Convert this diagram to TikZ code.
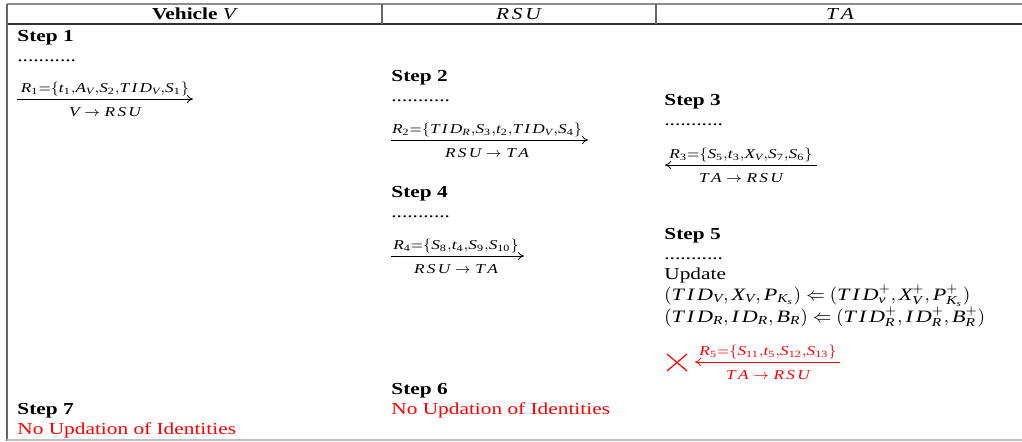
\documentclass[tikz,border=0pt]{standalone}
\usepackage{amsmath}
\usepackage{fontspec}
\setmainfont{Liberation Serif}[FakeStretch=1.27]
\usetikzlibrary{arrows.meta}
\newcommand{\mv}[1]{\textit{#1}}
\newcommand{\nd}[1]{\textup{#1}}
\begin{document}
\begin{tikzpicture}[x=0.5pt,y=-0.5pt,
  txt/.style={anchor=base west, inner sep=0pt, font=\fontsize{8.4}{10}\selectfont},
  mathtxt/.style={anchor=base west, inner sep=0pt, font=\fontsize{8.7}{10}\selectfont},
  steptxt/.style={anchor=base west, inner sep=0pt, font=\fontsize{8.4}{10}\selectfont\bfseries},
  redtxt/.style={txt, text=red},
  hdr/.style={anchor=base, inner sep=0pt, font=\fontsize{8.4}{10}\selectfont},
  lbl/.style={anchor=base, inner sep=0pt, font=\fontsize{6.8}{8}\selectfont},
  msg/.style={-{To[length=3pt,width=4pt]}, line width=0.4pt},
  rule/.style={line width=0.6pt, draw=black!60}]
\useasboundingbox (0,0) rectangle (1022,441);
% table frame
\draw[rule, draw=black!45] (7,4) -- (1022,4);
\draw[rule, draw=black!80] (7,24) -- (1022,24);
\draw[rule] (7,4) -- (7,441);
\draw[rule] (382,4) -- (382,24);
\draw[rule] (656,4) -- (656,24);
\draw[rule, draw=black!25] (7,440) -- (1022,440);
% header
\node[hdr] (h1) at (195,19) {\textbf{Vehicle} \mv{V}};
\node[hdr] (h2) at (519,19) {\mv{R\,S\,U}};
\node[hdr] (h3) at (840,19) {\mv{T\,A}};
% column 1
\node[steptxt] (s1) at (17,41) {Step 1};
\node[txt] (d1) at (17,61) {...........};
\coordinate (a1s) at (17,99);
\coordinate (a1e) at (193,99);
\draw[msg] (a1s) -- (a1e);
\node[lbl] (r1) at (105,92) {$\mv{R}_{\nd{1}}{=}\{\mv{t}_{\nd{1}}{,}\mv{A}_{\mv{V}}{,}\mv{S}_{\nd{2}}{,}\mv{T\,I\,D}_{\mv{V}}{,}\mv{S}_{\nd{1}}\}$};
\node[lbl] (p1) at (105,116) {$\mv{V}\rightarrow\mv{R\,S\,U}$};
% column 2
\node[steptxt] (s2) at (391,81) {Step 2};
\node[txt] (d2) at (391,101) {...........};
\coordinate (a2s) at (391,140);
\coordinate (a2e) at (588,140);
\draw[msg] (a2s) -- (a2e);
\node[lbl] (r2) at (487,133) {$\mv{R}_{\nd{2}}{=}\{\mv{T\,I\,D}_{\mv{R}}{,}\mv{S}_{\nd{3}}{,}\mv{t}_{\nd{2}}{,}\mv{T\,I\,D}_{\mv{V}}{,}\mv{S}_{\nd{4}}\}$};
\node[lbl] (p2) at (487,157) {$\mv{R\,S\,U}\rightarrow\mv{T\,A}$};
\node[steptxt] (s4) at (391,197) {Step 4};
\node[txt] (d4) at (391,217) {...........};
\coordinate (a4s) at (391,256);
\coordinate (a4e) at (524,256);
\draw[msg] (a4s) -- (a4e);
\node[lbl] (r4) at (456,249) {$\mv{R}_{\nd{4}}{=}\{\mv{S}_{\nd{8}}{,}\mv{t}_{\nd{4}}{,}\mv{S}_{\nd{9}}{,}\mv{S}_{\nd{10}}\}$};
\node[lbl] (p4) at (456,273) {$\mv{R\,S\,U}\rightarrow\mv{T\,A}$};
\node[steptxt] (s6) at (391,394) {Step 6};
\node[redtxt] (n6) at (391,414) {No Updation of Identities};
% column 3
\node[steptxt] (s3) at (664,105) {Step 3};
\node[txt] (d3) at (664,125) {...........};
\coordinate (a3s) at (817,165);
\coordinate (a3e) at (665,165);
\draw[msg] (a3s) -- (a3e);
\node[lbl] (r3) at (741,158) {$\mv{R}_{\nd{3}}{=}\{\mv{S}_{\nd{5}}{,}\mv{t}_{\nd{3}}{,}\mv{X}_{\mv{V}}{,}\mv{S}_{\nd{7}}{,}\mv{S}_{\nd{6}}\}$};
\node[lbl] (p3) at (741,182) {$\mv{T\,A}\rightarrow\mv{R\,S\,U}$};
\node[steptxt] (s5) at (664,239) {Step 5};
\node[txt] (d5) at (664,259) {...........};
\node[txt] (u5) at (664,279) {Update};
\node[mathtxt] (l1) at (664,300) {$(\mv{T\,I\,D}_{\mv{V}},\mv{X}_{\mv{V}},\mv{P}_{\mv{K}_{\mv{s}}})\Leftarrow(\mv{T\,I\,D}_{\mv{v}}^{+},\mv{X}_{\mv{V}}^{+},\mv{P}_{\mv{K}_{\mv{s}}}^{+})$};
\node[mathtxt] (l2) at (664,322) {$(\mv{T\,I\,D}_{\mv{R}},\mv{I\,D}_{\mv{R}},\mv{B}_{\mv{R}})\Leftarrow(\mv{T\,I\,D}_{\mv{R}}^{+},\mv{I\,D}_{\mv{R}}^{+},\mv{B}_{\mv{R}}^{+})$};
\coordinate (x1) at (667,354);
\coordinate (x2) at (687,371);
\coordinate (x3) at (667,371);
\coordinate (x4) at (687,354);
\draw[red, line width=0.6pt] (x1) -- (x2) (x3) -- (x4);
\coordinate (a5s) at (840,362);
\coordinate (a5e) at (695,362);
\draw[msg, red] (a5s) -- (a5e);
\node[lbl, text=red] (r5) at (768,355) {$\mv{R}_{\nd{5}}{=}\{\mv{S}_{\nd{11}}{,}\mv{t}_{\nd{5}}{,}\mv{S}_{\nd{12}}{,}\mv{S}_{\nd{13}}\}$};
\node[lbl, text=red] (p5) at (768,379) {$\mv{T\,A}\rightarrow\mv{R\,S\,U}$};
% column 1 bottom
\node[steptxt] (s7) at (17,414) {Step 7};
\node[redtxt] (n7) at (17,434) {No Updation of Identities};
\end{tikzpicture}
\end{document}
